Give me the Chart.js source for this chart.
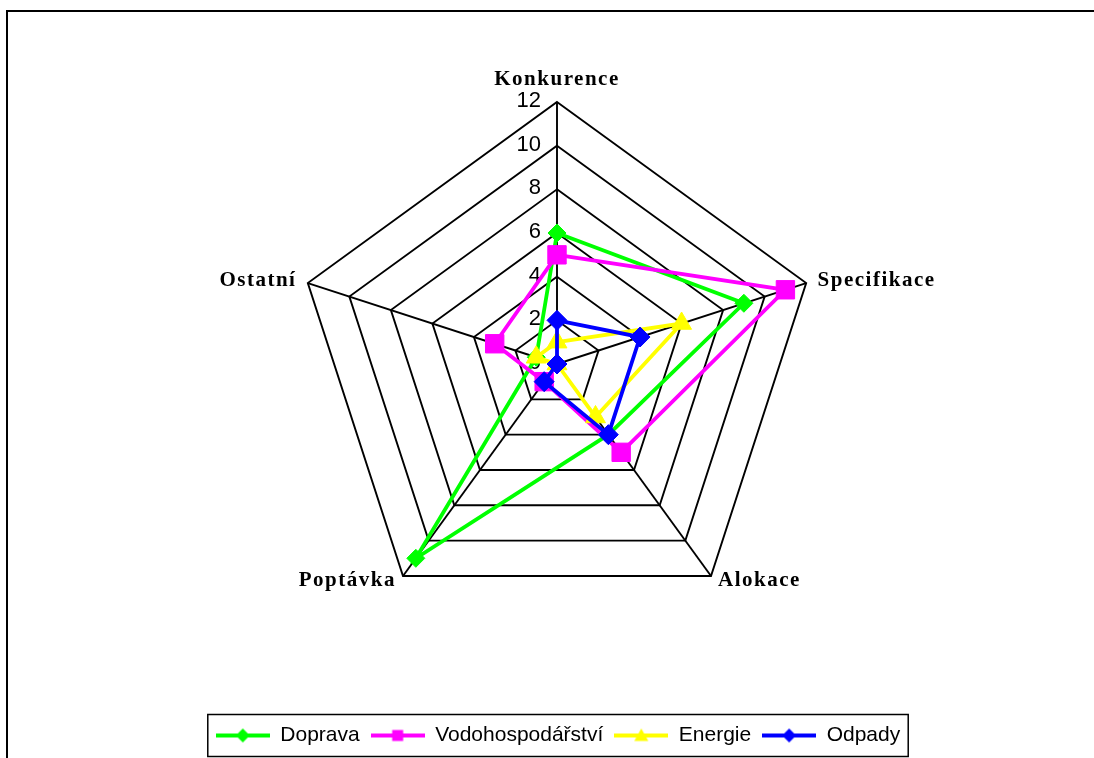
<!DOCTYPE html>
<html lang="cs">
<head>
    <meta charset="UTF-8" />
    <title>Radar</title>
    <script src="https://cdn.jsdelivr.net/npm/chart.js"></script>
    <style>
        html, body {
            margin: 0;
            padding: 0;
            background: #ffffff;
            overflow: hidden;
        }
        .frame {
            position: absolute;
            left: 6px;
            top: 10px;
            width: 1200px;
            height: 900px;
            border-top: 2px solid #000;
            border-left: 2px solid #000;
        }
        .chart-box {
            position: absolute;
            left: 0;
            top: 0;
            width: 1094px;
            height: 758px;
        }
    </style>
</head>
<body>
    <div class="frame"></div>
    <div class="chart-box">
        <canvas id="radarChart"></canvas>
    </div>

    <script>
        // data
        const categories = ["Konkurence", "Specifikace", "Alokace", "Poptávka", "Ostatní"];
        const doprava = [6, 9, 4, 11, 1];
        const vodohospodarstvi = [5, 11, 5, 1, 3];
        const energie = [1, 6, 3, 0, 1];
        const odpady = [2, 4, 4, 1, 0];
        const scaleMin = 0;
        const scaleMax = 12;
        const scaleStep = 2;

        // small line+marker icons for the legend
        function legendIcon(color, shape, r) {
            const c = document.createElement("canvas");
            c.width = 54;
            c.height = 22;
            const g = c.getContext("2d");
            const cx = 27, cy = 11;
            g.strokeStyle = color;
            g.fillStyle = color;
            g.lineWidth = 4;
            g.beginPath();
            g.moveTo(0, cy);
            g.lineTo(54, cy);
            g.stroke();
            g.beginPath();
            if (shape === "diamond") {
                g.moveTo(cx, cy - r);
                g.lineTo(cx + r, cy);
                g.lineTo(cx, cy + r);
                g.lineTo(cx - r, cy);
            } else if (shape === "square") {
                g.rect(cx - r, cy - r, 2 * r, 2 * r);
            } else {
                g.moveTo(cx, cy - r);
                g.lineTo(cx + r, cy + r * 0.8);
                g.lineTo(cx - r, cy + r * 0.8);
            }
            g.closePath();
            g.fill();
            return c;
        }

        const icons = [
            legendIcon("#00ff00", "diamond", 7),
            legendIcon("#ff00ff", "square", 5.5),
            legendIcon("#ffff00", "triangle", 7),
            legendIcon("#0000ff", "diamond", 7)
        ];

        // tick numbers to the left of the top axis
        const tickLabels = {
            id: "tickLabels",
            beforeDatasetsDraw(chart) {
                const s = chart.scales.r;
                const ctx = chart.ctx;
                ctx.save();
                ctx.font = "22px 'Liberation Sans', Arial, sans-serif";
                ctx.fillStyle = "#000";
                ctx.textAlign = "right";
                ctx.textBaseline = "middle";
                s.ticks.forEach(t => {
                    const d = s.getDistanceFromCenterForValue(t.value);
                    ctx.fillText(String(t.value), s.xCenter - 16, s.yCenter - d - 1);
                });
                ctx.restore();
            }
        };

        // category names, bold serif with spaced letters
        const pointNames = {
            id: "pointNames",
            afterDatasetsDraw(chart) {
                const s = chart.scales.r;
                const ctx = chart.ctx;
                ctx.save();
                ctx.font = "bold 21px 'Liberation Serif', 'Times New Roman', serif";
                ctx.letterSpacing = "1.5px";
                ctx.fillStyle = "#000";
                categories.forEach((name, i) => {
                    const p = s.getPointPosition(i, s.drawingArea + 12);
                    const dx = p.x - s.xCenter;
                    if (Math.abs(dx) < 2) {
                        ctx.textAlign = "center";
                        ctx.textBaseline = "bottom";
                        ctx.fillText(name, p.x, p.y);
                    } else {
                        ctx.textAlign = dx > 0 ? "left" : "right";
                        ctx.textBaseline = "middle";
                        const below = p.y > s.yCenter;
                        ctx.fillText(name, p.x, below ? p.y - 5 : p.y + 1);
                    }
                });
                ctx.restore();
            }
        };

        // frame round the legend
        const legendFrame = {
            id: "legendFrame",
            afterDraw(chart) {
                const boxes = chart.legend && chart.legend.legendHitBoxes;
                if (!boxes || !boxes.length) return;
                let left = Infinity, right = -Infinity, top = Infinity, bottom = -Infinity;
                boxes.forEach(b => {
                    left = Math.min(left, b.left);
                    right = Math.max(right, b.left + b.width);
                    top = Math.min(top, b.top);
                    bottom = Math.max(bottom, b.top + b.height);
                });
                const ctx = chart.ctx;
                ctx.save();
                ctx.strokeStyle = "#000";
                ctx.lineWidth = 1.5;
                ctx.strokeRect(left - 8, top - 10.5, right - left + 16, bottom - top + 21);
                ctx.restore();
            }
        };

        const ctx = document.getElementById("radarChart").getContext("2d");

        new Chart(ctx, {
            type: "radar",
            data: {
                labels: categories,
                datasets: [
                    {
                        label: "Doprava",
                        data: doprava,
                        borderColor: "#00ff00",
                        backgroundColor: "#00ff00",
                        pointStyle: "rectRot",
                        pointRadius: 9,
                        pointBorderWidth: 1,
                        order: 4
                    },
                    {
                        label: "Vodohospodářství",
                        data: vodohospodarstvi,
                        borderColor: "#ff00ff",
                        backgroundColor: "#ff00ff",
                        pointStyle: "rect",
                        pointRadius: 13,
                        pointBorderWidth: 1,
                        order: 3
                    },
                    {
                        label: "Energie",
                        data: energie,
                        borderColor: "#ffff00",
                        backgroundColor: "#ffff00",
                        pointStyle: "triangle",
                        pointRadius: 11.5,
                        pointBorderWidth: 1,
                        order: 2
                    },
                    {
                        label: "Odpady",
                        data: odpady,
                        borderColor: "#0000ff",
                        backgroundColor: "#0000ff",
                        pointStyle: "rectRot",
                        pointRadius: 10,
                        pointBorderWidth: 1,
                        order: 1
                    }
                ]
            },
            options: {
                responsive: true,
                maintainAspectRatio: false,
                animation: false,
                layout: {
                    padding: { top: 102, left: 22, right: 0, bottom: 2 }
                },
                elements: {
                    line: { borderWidth: 3.8, tension: 0, fill: false }
                },
                scales: {
                    r: {
                        min: scaleMin,
                        max: scaleMax,
                        ticks: { stepSize: scaleStep, display: false },
                        pointLabels: { display: false },
                        grid: { color: "#000", lineWidth: 1.9, circular: false },
                        angleLines: { color: "#000", lineWidth: 1.9 },
                        afterFit(scale) {
                            // plot sits well above the legend
                            scale.drawingArea = 262;
                            scale.xCenter = 557;
                            scale.yCenter = 364;
                        }
                    }
                },
                plugins: {
                    tooltip: { enabled: false },
                    legend: {
                        position: "bottom",
                        labels: {
                            usePointStyle: true,
                            pointStyleWidth: 54,
                            padding: 11,
                            color: "#000",
                            font: { family: "'Liberation Sans', Arial, sans-serif", size: 21 },
                            generateLabels(chart) {
                                return chart.data.datasets.map((ds, i) => ({
                                    text: ds.label,
                                    datasetIndex: i,
                                    pointStyle: icons[i],
                                    fillStyle: ds.backgroundColor,
                                    strokeStyle: ds.borderColor,
                                    lineWidth: 0,
                                    hidden: false,
                                    fontColor: "#000"
                                }));
                            }
                        }
                    }
                }
            },
            plugins: [tickLabels, pointNames, legendFrame]
        });
    </script>
</body>
</html>
